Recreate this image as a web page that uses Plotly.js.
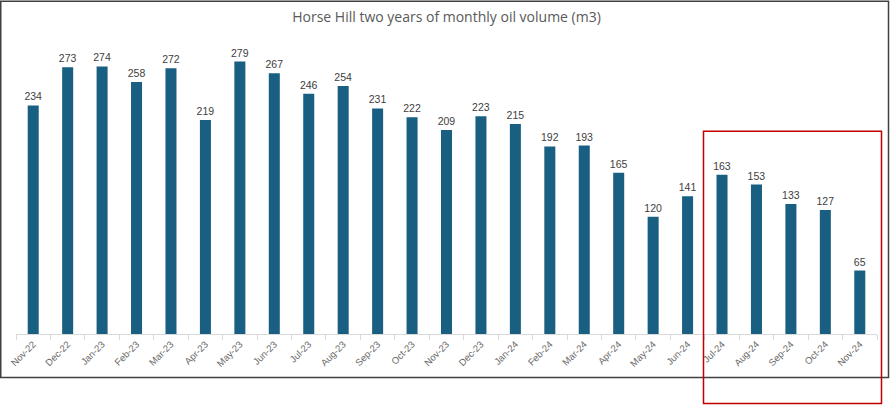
<!DOCTYPE html>
<html><head><meta charset="utf-8">
<script src="https://cdn.plot.ly/plotly-3.0.1.min.js"></script>
<style>html,body{margin:0;padding:0;background:#fff}#chart{width:890px;height:405px}</style>
</head><body><div id="chart"></div>
<script>
const months = ["Nov-22","Dec-22","Jan-23","Feb-23","Mar-23","Apr-23","May-23","Jun-23","Jul-23","Aug-23","Sep-23","Oct-23","Nov-23","Dec-23","Jan-24","Feb-24","Mar-24","Apr-24","May-24","Jun-24","Jul-24","Aug-24","Sep-24","Oct-24","Nov-24"];
const oilVolume = [234,273,274,258,272,219,279,267,246,254,231,222,209,223,215,192,193,165,120,141,163,153,133,127,65];
const chartTitle = "Horse Hill two years of monthly oil volume (m3)";

const W = 890, H = 405;
const M = {l: 16, r: 13, t: 40.5, b: 71};
const pw = W - M.l - M.r, ph = H - M.t - M.b;
const px = x => (x - M.l) / pw;
const py = y => (H - M.b - y) / ph;

const trace = {
  type: 'bar', x: months, y: oilVolume,
  marker: {color: '#195f82'},
  width: 0.32,
  text: oilVolume.map(String), textposition: 'outside', cliponaxis: false,
  constraintext: 'none', textangle: 0,
  textfont: {family: 'Liberation Sans, Arial, sans-serif', size: 10.5, color: '#404040'},
  hoverinfo: 'x+y'
};

const layout = {
  width: W, height: H, margin: M,
  paper_bgcolor: '#fff', plot_bgcolor: '#fff',
  showlegend: false,
  title: {text: chartTitle, x: 0.5, xref: 'paper', y: 1 - 17/H, yanchor: 'middle',
    font: {family: 'Open Sans, Liberation Sans, sans-serif', size: 14, color: '#595959'}},
  xaxis: {type: 'category', showline: true, linecolor: '#d9d9d9', linewidth: 1,
    ticks: 'outside', tickson: 'boundaries', ticklen: 5, tickcolor: '#d9d9d9',
    tickangle: -45, showgrid: false, zeroline: false,
    tickfont: {family: 'Liberation Sans, Arial, sans-serif', size: 9.5, color: '#6a6a6a'}},
  yaxis: {range: [0, 300], visible: false, showgrid: false, zeroline: false},
  shapes: [
    {type: 'rect', xref: 'paper', yref: 'paper', x0: px(0.75), x1: px(888.5), y0: py(377.5), y1: py(0.75),
      line: {color: '#404040', width: 1.5}},
    {type: 'rect', xref: 'paper', yref: 'paper', x0: px(703.5), x1: px(881.5), y0: py(403.5), y1: py(131),
      line: {color: '#c00000', width: 1.5}}
  ]
};
Plotly.newPlot('chart', [trace], layout, {displayModeBar: false, staticPlot: true});
</script></body></html>
